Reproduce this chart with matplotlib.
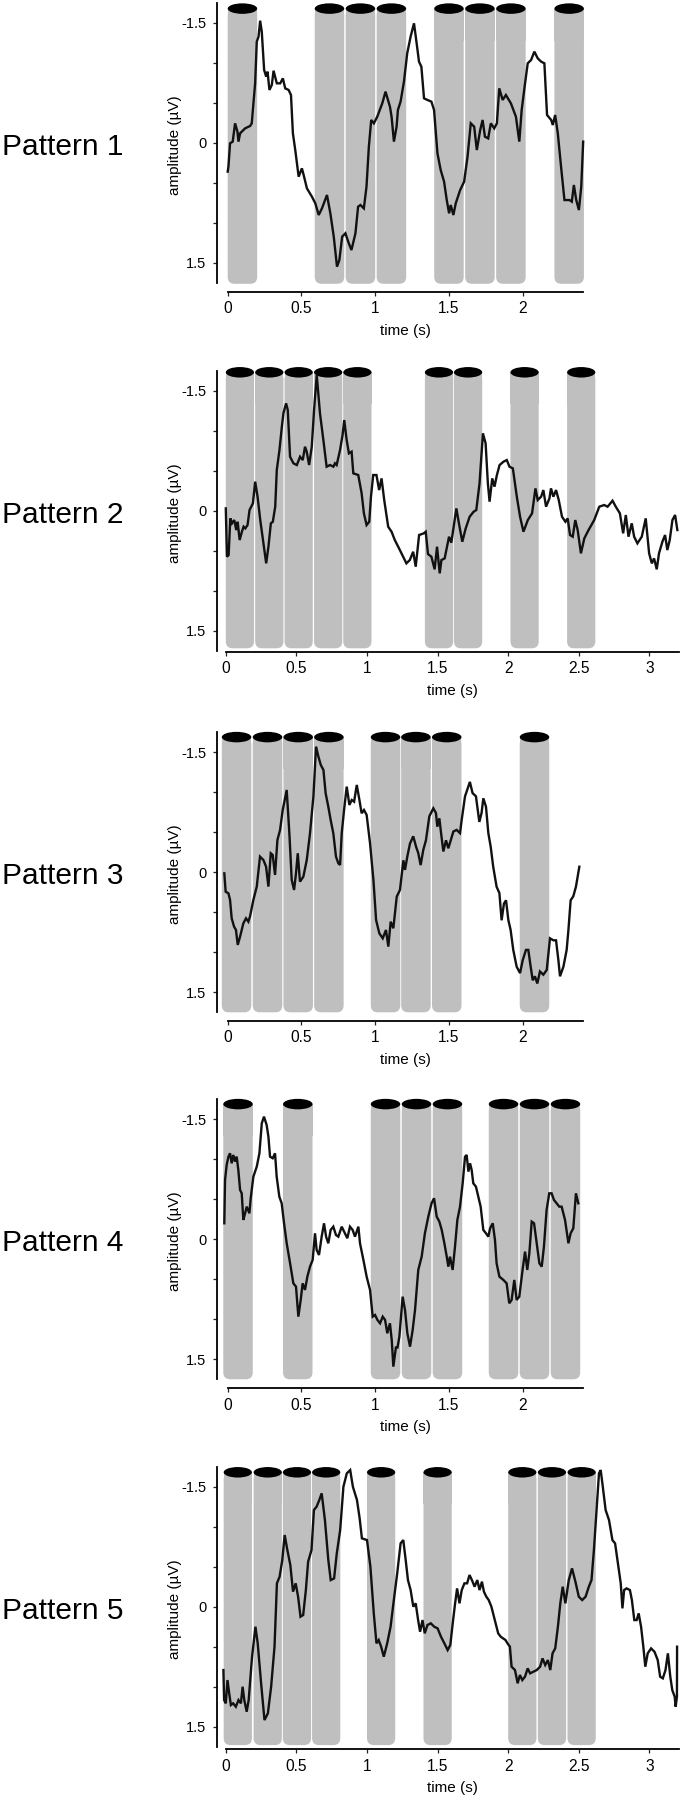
import matplotlib
matplotlib.use("Agg")
import matplotlib.pyplot as plt
from matplotlib.patches import Ellipse, FancyBboxPatch, Rectangle

plt.rcParams["font.family"] = ["Liberation Sans", "DejaVu Sans"]

# --- data (time in s, amplitude in uV) ---
PANEL_NAMES = ["Pattern 1", "Pattern 2", "Pattern 3", "Pattern 4", "Pattern 5"]

P1_ONSETS = [0.0, 0.59, 0.80, 1.01, 1.40, 1.61, 1.82, 2.215]
P2_ONSETS = [0.0, 0.208, 0.416, 0.625, 0.832, 1.41, 1.616, 2.016, 2.417]
P3_ONSETS = [-0.04, 0.17, 0.378, 0.586, 0.97, 1.176, 1.385, 1.98]
P4_ONSETS = [-0.03, 0.375, 0.97, 1.18, 1.39, 1.77, 1.98, 2.19]
P5_ONSETS = [-0.015, 0.197, 0.404, 0.611, 1.0, 1.40, 2.0, 2.21, 2.42]

P1_TRACE = [
    (0.0, 0.358), (0.005, 0.296), (0.016, 0.004), (0.034, -0.017), (0.05, -0.246),
    (0.066, -0.142), (0.073, -0.017), (0.084, -0.121), (0.118, -0.183), (0.152, -0.213),
    (0.163, -0.246), (0.186, -0.746), (0.197, -1.267), (0.209, -1.329), (0.22, -1.529),
    (0.231, -1.392), (0.247, -0.913), (0.261, -0.829), (0.27, -0.892), (0.283, -0.663),
    (0.299, -0.725), (0.311, -0.904), (0.333, -0.746), (0.356, -0.746), (0.374, -0.808),
    (0.39, -0.683), (0.413, -0.663), (0.429, -0.6), (0.442, -0.121), (0.458, 0.088),
    (0.481, 0.421), (0.503, 0.317), (0.515, 0.4), (0.537, 0.567), (0.571, 0.671),
    (0.594, 0.754), (0.617, 0.9), (0.639, 0.817), (0.673, 0.65), (0.696, 0.879),
    (0.719, 1.171), (0.741, 1.546), (0.757, 1.463), (0.776, 1.171), (0.798, 1.129),
    (0.821, 1.254), (0.839, 1.338), (0.866, 1.129), (0.884, 0.796), (0.9, 0.775),
    (0.923, 0.817), (0.941, 0.546), (0.957, 0.046), (0.973, -0.288), (0.991, -0.246),
    (1.014, -0.329), (1.048, -0.496), (1.07, -0.642), (1.1, -0.454), (1.111, -0.329),
    (1.127, -0.017), (1.145, -0.204), (1.154, -0.413), (1.172, -0.517), (1.195, -0.767),
    (1.217, -1.121), (1.24, -1.329), (1.263, -1.496), (1.281, -1.246), (1.297, -1.017),
    (1.313, -0.954), (1.331, -0.558), (1.354, -0.538), (1.381, -0.517), (1.399, -0.413),
    (1.422, 0.129), (1.444, 0.338), (1.467, 0.483), (1.485, 0.713), (1.501, 0.879),
    (1.512, 0.775), (1.53, 0.9), (1.546, 0.754), (1.576, 0.588), (1.603, 0.483),
    (1.626, 0.171), (1.648, -0.246), (1.671, -0.204), (1.689, 0.088), (1.712, -0.163),
    (1.728, -0.288), (1.744, -0.079), (1.766, -0.058), (1.784, -0.246), (1.807, -0.183),
    (1.825, -0.246), (1.841, -0.683), (1.864, -0.538), (1.886, -0.6), (1.92, -0.496),
    (1.954, -0.329), (1.977, -0.017), (1.993, -0.413), (2.016, -0.746), (2.034, -0.996),
    (2.057, -1.038), (2.079, -1.142), (2.102, -1.058), (2.125, -1.017), (2.147, -0.996),
    (2.165, -0.35), (2.193, -0.288), (2.204, -0.225), (2.22, -0.35), (2.238, -0.121),
    (2.26, 0.296), (2.283, 0.713), (2.317, 0.713), (2.333, 0.733), (2.347, 0.525),
    (2.363, 0.713), (2.381, 0.838), (2.397, 0.546), (2.41, -0.017),
]

P2_TRACE = [
    (0.0, -0.029), (0.008, 0.575), (0.02, 0.554), (0.032, 0.096), (0.044, 0.158),
    (0.06, 0.117), (0.074, 0.242), (0.084, 0.138), (0.098, 0.367), (0.114, 0.263),
    (0.126, 0.2), (0.138, 0.221), (0.154, 0.179), (0.168, -0.008), (0.192, -0.092),
    (0.208, -0.363), (0.225, -0.175), (0.244, 0.117), (0.267, 0.408), (0.286, 0.658),
    (0.302, 0.45), (0.319, 0.158), (0.333, 0.138), (0.35, -0.05), (0.361, -0.508),
    (0.38, -0.758), (0.397, -1.05), (0.408, -1.217), (0.427, -1.342), (0.439, -1.258),
    (0.455, -0.675), (0.479, -0.592), (0.503, -0.571), (0.526, -0.675), (0.545, -0.633),
    (0.561, -0.8), (0.573, -0.738), (0.59, -0.571), (0.609, -0.8), (0.625, -1.258),
    (0.644, -1.696), (0.667, -1.217), (0.691, -0.883), (0.714, -0.55), (0.738, -0.571),
    (0.762, -0.55), (0.773, -0.592), (0.785, -0.571), (0.809, -0.758), (0.827, -0.946),
    (0.839, -1.133), (0.856, -0.883), (0.872, -0.717), (0.891, -0.738), (0.903, -0.467),
    (0.938, -0.446), (0.962, -0.217), (0.978, 0.033), (0.997, 0.179), (1.016, 0.138),
    (1.028, -0.175), (1.044, -0.446), (1.067, -0.446), (1.086, -0.258), (1.103, -0.404),
    (1.122, -0.133), (1.15, 0.2), (1.174, 0.263), (1.197, 0.367), (1.221, 0.45),
    (1.279, 0.658), (1.303, 0.617), (1.327, 0.513), (1.345, 0.7), (1.369, 0.304),
    (1.402, 0.283), (1.416, 0.263), (1.432, 0.542), (1.456, 0.575), (1.479, 0.733),
    (1.496, 0.45), (1.515, 0.783), (1.527, 0.617), (1.55, 0.596), (1.581, 0.325),
    (1.597, 0.4), (1.614, 0.2), (1.633, -0.029), (1.651, 0.158), (1.675, 0.388),
    (1.699, 0.221), (1.727, 0.075), (1.755, 0.013), (1.774, -0.008), (1.797, -0.342),
    (1.821, -0.967), (1.84, -0.842), (1.856, -0.342), (1.868, -0.113), (1.887, -0.404),
    (1.903, -0.3), (1.92, -0.446), (1.939, -0.571), (1.967, -0.613), (1.99, -0.633),
    (2.009, -0.55), (2.033, -0.529), (2.061, -0.175), (2.084, 0.075), (2.108, 0.263),
    (2.139, 0.117), (2.169, 0.033), (2.193, -0.279), (2.209, -0.133), (2.233, -0.175),
    (2.249, -0.258), (2.268, -0.05), (2.292, -0.154), (2.303, -0.279), (2.32, -0.175),
    (2.339, -0.258), (2.358, -0.133), (2.381, 0.075), (2.405, 0.138), (2.421, 0.096),
    (2.438, 0.304), (2.457, 0.325), (2.475, 0.117), (2.492, 0.242), (2.515, 0.533),
    (2.539, 0.346), (2.569, 0.242), (2.609, 0.117), (2.645, -0.05), (2.68, -0.071),
    (2.704, -0.05), (2.739, -0.125), (2.762, -0.05), (2.791, 0.033), (2.814, 0.283),
    (2.833, 0.054), (2.852, 0.325), (2.875, 0.158), (2.892, 0.325), (2.915, 0.408),
    (2.946, 0.325), (2.974, 0.096), (2.998, 0.533), (3.017, 0.658), (3.033, 0.596),
    (3.052, 0.733), (3.068, 0.533), (3.092, 0.388), (3.111, 0.304), (3.127, 0.492),
    (3.144, 0.367), (3.163, 0.117), (3.182, 0.054), (3.198, 0.242),
]

P3_TRACE = [
    (-0.023, 0.013), (-0.014, 0.242), (0.005, 0.263), (0.016, 0.346), (0.027, 0.575),
    (0.043, 0.679), (0.056, 0.721), (0.068, 0.908), (0.084, 0.804), (0.106, 0.638),
    (0.124, 0.575), (0.14, 0.617), (0.151, 0.554), (0.174, 0.346), (0.197, 0.179),
    (0.219, -0.196), (0.242, -0.154), (0.26, -0.071), (0.276, 0.179), (0.292, -0.238),
    (0.305, -0.217), (0.321, 0.033), (0.337, -0.404), (0.355, -0.529), (0.373, -0.779),
    (0.4, -1.029), (0.418, -0.488), (0.434, 0.096), (0.45, 0.221), (0.463, 0.013),
    (0.475, -0.238), (0.49, 0.117), (0.513, 0.054), (0.536, -0.154), (0.558, -0.488),
    (0.581, -0.946), (0.599, -1.571), (0.615, -1.446), (0.631, -1.342), (0.649, -1.279),
    (0.664, -0.988), (0.682, -0.821), (0.698, -0.654), (0.716, -0.488), (0.734, -0.196),
    (0.75, -0.113), (0.762, -0.092), (0.773, -0.488), (0.789, -0.779), (0.807, -1.071),
    (0.825, -0.842), (0.841, -0.904), (0.857, -0.883), (0.875, -1.092), (0.893, -0.904),
    (0.908, -0.738), (0.924, -0.779), (0.942, -0.717), (0.965, -0.363), (0.988, 0.096),
    (1.006, 0.596), (1.028, 0.763), (1.051, 0.825), (1.073, 0.721), (1.089, 0.929),
    (1.105, 0.617), (1.123, 0.7), (1.146, 0.304), (1.168, 0.22), (1.191, -0.15),
    (1.202, -0.03), (1.218, -0.2), (1.236, -0.36), (1.258, -0.45), (1.277, -0.32),
    (1.292, -0.24), (1.308, -0.09), (1.326, -0.28), (1.344, -0.4), (1.367, -0.7),
    (1.394, -0.8), (1.412, -0.74), (1.421, -0.57), (1.435, -0.675), (1.444, -0.53),
    (1.462, -0.26), (1.48, -0.4), (1.496, -0.3), (1.512, -0.4), (1.53, -0.51),
    (1.552, -0.53), (1.575, -0.49), (1.586, -0.65), (1.609, -0.95), (1.642, -1.13),
    (1.66, -0.99), (1.683, -0.95), (1.706, -0.63), (1.721, -0.74), (1.733, -0.925),
    (1.751, -0.82), (1.767, -0.49), (1.783, -0.32), (1.8, -0.07), (1.823, 0.18),
    (1.842, 0.26), (1.857, 0.6), (1.873, 0.39), (1.887, 0.35), (1.903, 0.6),
    (1.918, 0.72), (1.936, 0.97), (1.959, 1.18), (1.982, 1.26), (2.0, 1.1),
    (2.022, 0.97), (2.038, 0.97), (2.054, 1.18), (2.068, 1.35), (2.083, 1.3),
    (2.099, 1.39), (2.117, 1.24), (2.14, 1.28), (2.163, 1.22), (2.185, 0.825),
    (2.208, 0.85), (2.226, 0.85), (2.242, 1.1), (2.253, 1.3), (2.276, 1.18),
    (2.298, 0.97), (2.31, 0.72), (2.325, 0.35), (2.343, 0.3), (2.361, 0.18),
    (2.384, -0.07),
]

P4_TRACE = [
    (-0.023, -0.2), (-0.018, -0.742), (-0.007, -0.929), (0.005, -1.033), (0.016, -1.075),
    (0.027, -0.95), (0.038, -1.054), (0.05, -0.971), (0.061, -1.033), (0.072, -0.867),
    (0.084, -0.617), (0.095, -0.575), (0.106, -0.242), (0.118, -0.325), (0.129, -0.408),
    (0.147, -0.325), (0.156, -0.513), (0.174, -0.783), (0.197, -0.908), (0.215, -1.075),
    (0.231, -1.45), (0.246, -1.533), (0.264, -1.429), (0.276, -1.283), (0.287, -1.033),
    (0.305, -1.013), (0.321, -1.075), (0.332, -0.783), (0.35, -0.533), (0.366, -0.45),
    (0.382, -0.2), (0.4, 0.05), (0.423, 0.3), (0.445, 0.55), (0.463, 0.592),
    (0.479, 0.967), (0.495, 0.758), (0.508, 0.55), (0.524, 0.633), (0.54, 0.467),
    (0.558, 0.342), (0.576, 0.258), (0.592, -0.075), (0.603, 0.133), (0.619, 0.196),
    (0.637, -0.033), (0.653, -0.2), (0.667, -0.033), (0.682, 0.05), (0.698, -0.117),
    (0.716, -0.158), (0.734, -0.054), (0.75, -0.033), (0.773, -0.158), (0.795, -0.075),
    (0.811, -0.013), (0.829, -0.158), (0.847, -0.117), (0.863, -0.033), (0.886, -0.158),
    (0.897, 0.05), (0.92, 0.258), (0.942, 0.467), (0.965, 0.633), (0.983, 0.967),
    (0.999, 0.946), (1.015, 1.008), (1.033, 1.05), (1.051, 0.967), (1.067, 1.008),
    (1.082, 1.175), (1.1, 1.05), (1.112, 1.258), (1.123, 1.592), (1.141, 1.342),
    (1.15, 1.363), (1.164, 1.217), (1.186, 0.717), (1.202, 0.883), (1.218, 1.175),
    (1.236, 1.342), (1.254, 1.133), (1.27, 0.883), (1.292, 0.383), (1.315, 0.217),
    (1.337, -0.075), (1.36, -0.283), (1.382, -0.45), (1.399, -0.513), (1.417, -0.283),
    (1.435, -0.221), (1.451, -0.117), (1.469, 0.05), (1.485, 0.217), (1.496, 0.342),
    (1.507, 0.217), (1.525, 0.383), (1.541, 0.092), (1.557, -0.242), (1.575, -0.408),
    (1.593, -0.7), (1.609, -1.033), (1.62, -1.054), (1.632, -0.846), (1.643, -0.95),
    (1.654, -0.867), (1.665, -0.7), (1.683, -0.658), (1.699, -0.533), (1.715, -0.408),
    (1.733, -0.117), (1.751, -0.075), (1.767, -0.033), (1.779, -0.138), (1.797, -0.2),
    (1.812, 0.008), (1.823, 0.3), (1.842, 0.467), (1.869, 0.508), (1.891, 0.55),
    (1.909, 0.8), (1.925, 0.758), (1.943, 0.508), (1.959, 0.758), (1.977, 0.717),
    (1.999, 0.383), (2.016, 0.154), (2.031, 0.383), (2.045, 0.175), (2.061, -0.221),
    (2.077, -0.2), (2.095, 0.05), (2.113, 0.3), (2.129, 0.342), (2.144, 0.092),
    (2.162, -0.367), (2.18, -0.575), (2.196, -0.575), (2.212, -0.492), (2.23, -0.45),
    (2.248, -0.408), (2.264, -0.408), (2.287, -0.242), (2.31, 0.05), (2.325, -0.075),
    (2.343, -0.138), (2.361, -0.575), (2.377, -0.45),
]

P5_TRACE = [
    (-0.017, 0.792), (-0.012, 1.167), (0.0, 1.208), (0.012, 0.917), (0.024, 1.083),
    (0.036, 1.229), (0.052, 1.208), (0.071, 1.25), (0.09, 1.167), (0.107, 1.208),
    (0.119, 1.0), (0.131, 1.167), (0.148, 1.313), (0.162, 1.167), (0.186, 0.625),
    (0.21, 0.25), (0.226, 0.458), (0.25, 0.958), (0.274, 1.417), (0.298, 1.333),
    (0.321, 1.0), (0.345, 0.5), (0.362, -0.292), (0.381, -0.375), (0.4, -0.583),
    (0.417, -0.896), (0.436, -0.708), (0.457, -0.521), (0.476, -0.188), (0.495, -0.292),
    (0.512, -0.125), (0.529, 0.125), (0.548, 0.104), (0.567, -0.208), (0.583, -0.563),
    (0.607, -0.708), (0.624, -1.208), (0.643, -1.25), (0.662, -1.333), (0.679, -1.417),
    (0.702, -1.083), (0.726, -0.583), (0.743, -0.333), (0.767, -0.354), (0.786, -0.667),
    (0.81, -0.958), (0.833, -1.5), (0.857, -1.667), (0.881, -1.708), (0.9, -1.5),
    (0.929, -1.333), (0.948, -1.104), (0.964, -0.854), (1.0, -0.833), (1.024, -0.5),
    (1.048, 0.083), (1.067, 0.458), (1.083, 0.417), (1.1, 0.5), (1.119, 0.625),
    (1.143, 0.458), (1.167, 0.25), (1.19, -0.083), (1.214, -0.417), (1.238, -0.792),
    (1.257, -0.833), (1.274, -0.583), (1.29, -0.333), (1.309, -0.208), (1.328, 0.0),
    (1.345, -0.042), (1.362, 0.167), (1.376, 0.313), (1.393, 0.167), (1.409, 0.333),
    (1.428, 0.229), (1.452, 0.208), (1.476, 0.25), (1.5, 0.271), (1.524, 0.375),
    (1.548, 0.458), (1.571, 0.542), (1.59, 0.479), (1.607, 0.208), (1.624, -0.042),
    (1.638, -0.229), (1.655, -0.042), (1.671, -0.208), (1.69, -0.292), (1.709, -0.292),
    (1.726, -0.396), (1.743, -0.333), (1.762, -0.25), (1.781, -0.333), (1.797, -0.208),
    (1.814, -0.313), (1.828, -0.188), (1.845, -0.125), (1.862, -0.083), (1.881, 0.0),
    (1.905, 0.167), (1.929, 0.333), (1.947, 0.375), (1.964, 0.396), (1.981, 0.417),
    (1.995, 0.458), (2.012, 0.5), (2.024, 0.75), (2.048, 0.792), (2.067, 0.958),
    (2.083, 0.854), (2.1, 0.917), (2.119, 0.875), (2.138, 0.771), (2.155, 0.833),
    (2.178, 0.813), (2.202, 0.792), (2.226, 0.75), (2.243, 0.646), (2.262, 0.729),
    (2.281, 0.667), (2.298, 0.792), (2.314, 0.583), (2.333, 0.521), (2.352, 0.25),
    (2.369, -0.042), (2.386, -0.25), (2.405, -0.042), (2.429, -0.333), (2.452, -0.479),
    (2.476, -0.313), (2.5, -0.125), (2.524, -0.083), (2.548, -0.125), (2.571, -0.25),
    (2.59, -0.333), (2.607, -0.708), (2.624, -1.167), (2.643, -1.667), (2.655, -1.708),
    (2.667, -1.542), (2.69, -1.208), (2.714, -1.083), (2.738, -0.833), (2.757, -0.792),
    (2.774, -0.583), (2.797, -0.292), (2.809, 0.021), (2.821, -0.208), (2.838, -0.229),
    (2.862, -0.208), (2.876, -0.083), (2.893, 0.167), (2.91, 0.167), (2.924, 0.083),
    (2.941, 0.25), (2.957, 0.5), (2.971, 0.75), (2.988, 0.583), (3.012, 0.521),
    (3.036, 0.563), (3.059, 0.667), (3.076, 0.875), (3.095, 0.896), (3.114, 0.792),
    (3.131, 0.583), (3.148, 0.875), (3.162, 1.042), (3.179, 1.125), (3.186, 1.25),
    (3.195, 1.125), (3.196, 0.5),
]

Y_TICKS = [-1.5, -1.0, -0.5, 0.0, 0.5, 1.0, 1.5]
Y_TICK_LABELS = ["-1.5", "", "", "0", "", "", "1.5"]

# --- layout (pixels of the 682x1800 canvas) ---
FIG_W, FIG_H, DPI = 682, 1800, 100
PX_PER_UV = 80.0
Y_LIM = 1.75
YSPINE_X = 217.0
BAR_W = 0.2
BAR_GREY = "#bfbfbf"
CAP_PX = 10.5
CORNER_PX = 7.0
PT = 72.0 / DPI

LAYOUT = [
    dict(yc=143.0, x0=227.7, scale=147.5, xmax=2.41, xoff=8.7, cap=-1.68, bar_end=1.76),
    dict(yc=510.7, x0=225.8, scale=141.2, xmax=3.21, xoff=1.0, cap=-1.73, bar_end=1.72),
    dict(yc=872.3, x0=227.7, scale=147.5, xmax=2.41, xoff=8.4, cap=-1.69, bar_end=1.75),
    dict(yc=1239.3, x0=227.7, scale=147.5, xmax=2.41, xoff=8.7, cap=-1.69, bar_end=1.75),
    dict(yc=1606.7, x0=225.8, scale=141.2, xmax=3.21, xoff=2.6, cap=-1.68, bar_end=1.73),
]


def _fx(px):
    return px / FIG_W


def _fy(px):
    return 1.0 - px / FIG_H


def draw_panel(fig, name, trace, onsets, lay):
    w_px = lay["xmax"] * lay["scale"]
    ax = fig.add_axes([_fx(lay["x0"]), _fy(lay["yc"] + Y_LIM * PX_PER_UV),
                       _fx(w_px), 2 * Y_LIM * PX_PER_UV / FIG_H])
    ax.set_xlim(0, lay["xmax"])
    ax.set_ylim(Y_LIM, -Y_LIM)
    ax.patch.set_visible(False)

    aspect = lay["scale"] / PX_PER_UV
    r_x = CORNER_PX / lay["scale"]
    cap_h = CAP_PX / PX_PER_UV
    for s in onsets:
        body = FancyBboxPatch((s, lay["cap"]), BAR_W, lay["bar_end"] - lay["cap"],
                              boxstyle=f"round,pad=0,rounding_size={r_x}",
                              mutation_aspect=aspect, fc=BAR_GREY, ec="none",
                              clip_on=False, zorder=1)
        top = Rectangle((s, lay["cap"]), BAR_W, 0.4, fc=BAR_GREY, ec="none",
                        clip_on=False, zorder=1)
        cap = Ellipse((s + BAR_W / 2, lay["cap"]), BAR_W, cap_h, fc="black",
                      ec="none", clip_on=False, zorder=2)
        ax.add_patch(body)
        ax.add_patch(top)
        ax.add_patch(cap)

    t = [p[0] for p in trace]
    v = [p[1] for p in trace]
    ax.plot(t, v, color="#111111", lw=1.7, clip_on=False, zorder=3,
            solid_joinstyle="miter")

    for side in ("top", "right"):
        ax.spines[side].set_visible(False)
    ax.spines["left"].set_position(("outward", (lay["x0"] - YSPINE_X) * PT))
    ax.spines["bottom"].set_position(("outward", lay["xoff"] * PT))
    for side in ("left", "bottom"):
        ax.spines[side].set_linewidth(1.3)
        ax.spines[side].set_color("black")

    ax.set_yticks(Y_TICKS, Y_TICK_LABELS)
    xt = [x * 0.5 for x in range(int(lay["xmax"] / 0.5) + 1)]
    ax.set_xticks(xt, [f"{x:g}" for x in xt])
    ax.tick_params(axis="y", length=3, width=0.9, pad=4.5, labelsize=10.5, colors="#222222",
                   labelcolor="black")
    ax.tick_params(axis="x", length=3, width=0.9, pad=4.0, labelsize=11.2, colors="#222222",
                   labelcolor="black")

    spine_y = lay["yc"] + Y_LIM * PX_PER_UV + lay["xoff"]
    fig.text(_fx(lay["x0"] + w_px / 2), _fy(spine_y + 39), "time (s)",
             ha="center", va="center", fontsize=11)
    fig.text(_fx(175.5), _fy(lay["yc"] + 2), "amplitude (µV)", rotation=90,
             ha="center", va="center", fontsize=11)
    fig.text(_fx(2), _fy(lay["yc"] + 12), name, ha="left", va="baseline", fontsize=21.5)


fig = plt.figure(figsize=(FIG_W / DPI, FIG_H / DPI), dpi=DPI)
traces = [P1_TRACE, P2_TRACE, P3_TRACE, P4_TRACE, P5_TRACE]
onsets = [P1_ONSETS, P2_ONSETS, P3_ONSETS, P4_ONSETS, P5_ONSETS]
for name, tr, on, lay in zip(PANEL_NAMES, traces, onsets, LAYOUT):
    draw_panel(fig, name, tr, on, lay)

fig.savefig("out.png", dpi=DPI, facecolor="white")
